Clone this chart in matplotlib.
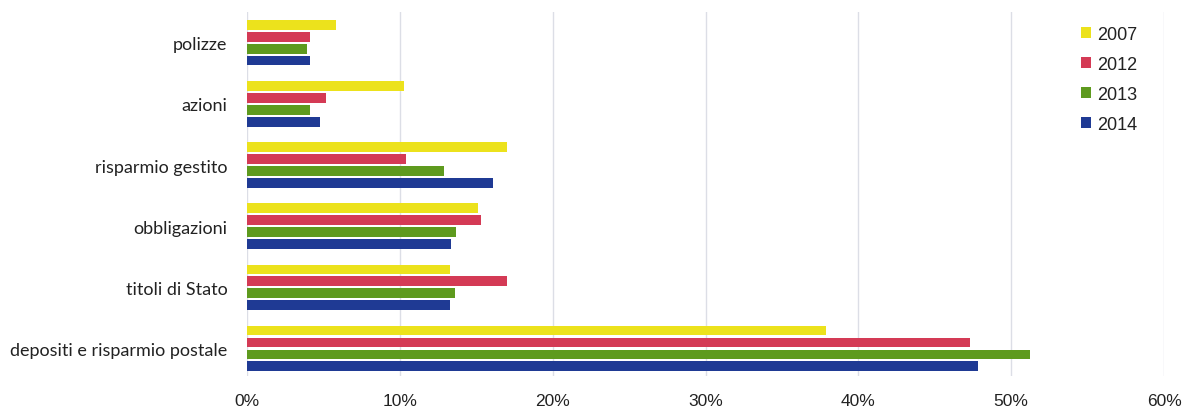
import numpy as np
import matplotlib.pyplot as plt
from matplotlib.ticker import FuncFormatter

# Composizione della ricchezza finanziaria (%)
categorie = ["polizze", "azioni", "risparmio gestito", "obbligazioni",
             "titoli di Stato", "depositi e risparmio postale"]
anni = ["2007", "2012", "2013", "2014"]

v2007 = [5.8, 10.3, 17.0, 15.1, 13.3, 37.9]
v2012 = [4.1, 5.2, 10.4, 15.3, 17.0, 47.3]
v2013 = [3.9, 4.1, 12.9, 13.7, 13.6, 51.2]
v2014 = [4.1, 4.8, 16.1, 13.35, 13.3, 47.8]

colori = ["#ece21c", "#d43a55", "#5e9a1e", "#1f3a94"]

fig = plt.figure(figsize=(11.83, 4.10), dpi=100)
ax = fig.add_axes([0.2088, 0.0805, 0.984 - 0.2088, 0.968 - 0.0805])

y = np.arange(len(categorie))
passo = 0.195
altezza = 0.16
for i, (serie, anno) in enumerate(zip([v2007, v2012, v2013, v2014], anni)):
    ax.barh(y + (i - 1.5) * passo, serie, height=altezza, color=colori[i],
            label=anno, zorder=3)

ax.set_xlim(0, 60)
ax.set_ylim(5.45, -0.5)
ax.set_xticks(np.arange(0, 61, 10))
ax.xaxis.set_major_formatter(FuncFormatter(lambda v, p: f"{v:.0f}%"))
ax.set_yticks(y)
ax.set_yticklabels(categorie)
ax.tick_params(axis="x", length=0, pad=12, labelsize=12.5, labelcolor="#222222",
               labelfontfamily="Liberation Sans")
ax.tick_params(axis="y", length=0, pad=14, labelsize=13, labelcolor="#222222",
               labelfontfamily="Lato")

ax.grid(axis="x", color="#dcdee6", linewidth=1.0, zorder=0)
for s in ax.spines.values():
    s.set_visible(False)

leg = ax.legend(loc="upper right", bbox_to_anchor=(0.985, 1.0), frameon=False,
                prop={"family": "Liberation Sans", "size": 13},
                handlelength=0.55, handleheight=0.55, handletextpad=0.3,
                labelspacing=0.72, borderaxespad=0.35)
for t in leg.get_texts():
    t.set_color("#222222")

fig.savefig("out.png", dpi=100)
